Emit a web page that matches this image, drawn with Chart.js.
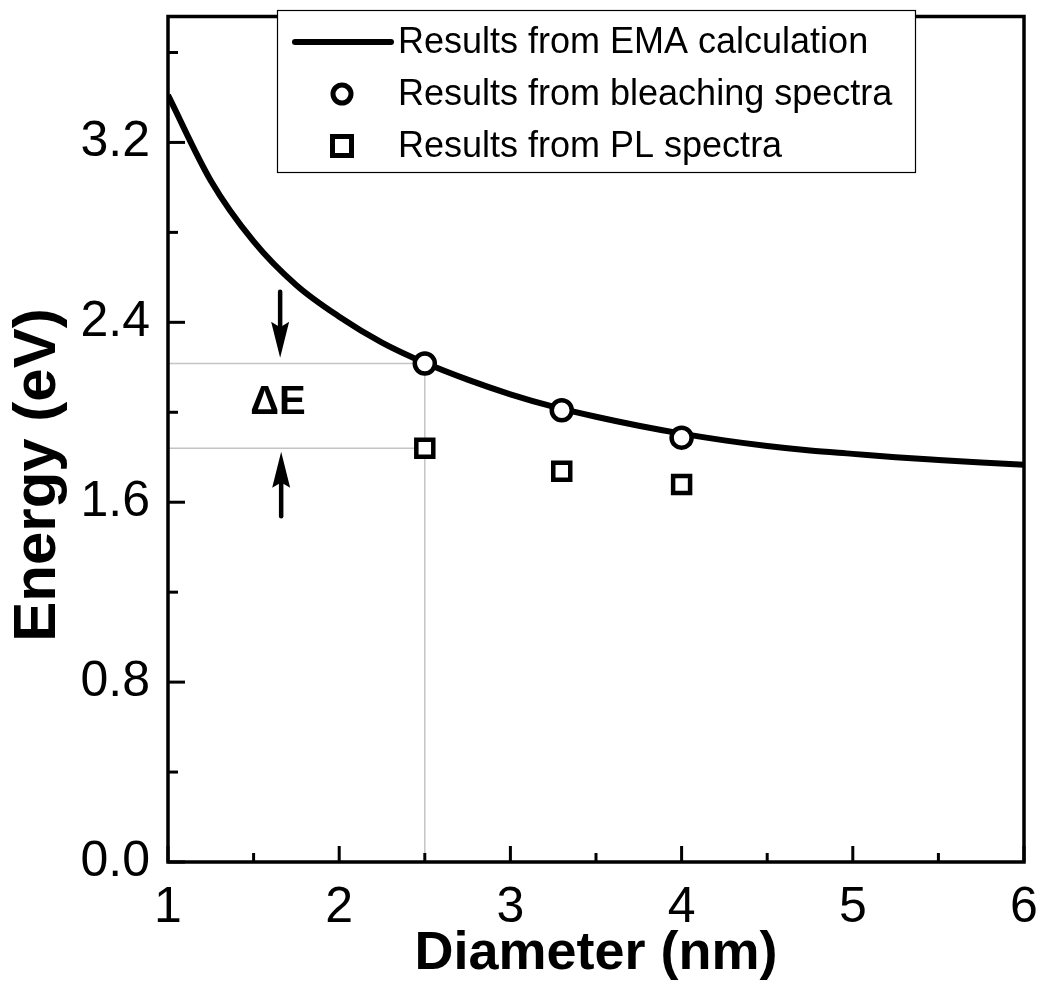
<!DOCTYPE html>
<html>
<head>
<meta charset="utf-8">
<script src="https://cdn.jsdelivr.net/npm/chart.js@4.4.1/dist/chart.umd.min.js"></script>
<style>
  html, body { margin: 0; padding: 0; background: #fff; }
  #chart { display: block; }
</style>
</head>
<body>
<canvas id="chart" width="1041" height="990"></canvas>
<script>
// EMA curve
const emaDiameter = [1.0, 1.25, 1.5, 1.75, 2.0, 2.25, 2.5, 2.75, 3.0, 3.25, 3.5, 3.75, 4.0, 4.25, 4.5, 4.75, 5.0, 5.25, 5.5, 5.75, 6.0];
const emaEnergy = [3.41, 3.03, 2.76, 2.565, 2.425, 2.31, 2.22, 2.145, 2.08, 2.025, 1.98, 1.94, 1.905, 1.875, 1.85, 1.83, 1.815, 1.80, 1.788, 1.777, 1.767];

// measured points
const sampleDiameter = [2.5, 3.3, 4.0];
const bleachingEnergy = [2.217, 2.009, 1.887];
const plEnergy = [1.840, 1.738, 1.679];

// axis ticks
const xTicks = [1, 2, 3, 4, 5, 6];
const xMinorTicks = [1.5, 2.5, 3.5, 4.5, 5.5];
const yTicks = [0.0, 0.8, 1.6, 2.4, 3.2];
const yMinorTicks = [0.4, 1.2, 2.0, 2.8, 3.6];

const legendLabels = ['Results from EMA calculation', 'Results from bleaching spectra', 'Results from PL spectra'];

// delta E annotation (first bleaching / PL pair)
const guideX = sampleDiameter[0];
const guideTop = bleachingEnergy[0];
const guideBottom = plEnergy[0];
const arrowX = 1.655;

const FONT = '"Liberation Sans", Arial, Helvetica, sans-serif';

function toXY(xs, ys) {
    return xs.map((x, i) => ({ x: x, y: ys[i] }));
}

const guideStyle = {
    type: 'line',
    borderColor: '#c4c4c4',
    borderWidth: 1.5,
    pointRadius: 0,
    fill: false,
    order: 5
};

// frame, inward ticks, legend box, arrows and delta E label
const decorations = {
    id: 'decorations',
    afterDatasetsDraw(chart) {
        const ctx = chart.ctx;
        const area = chart.chartArea;
        const xs = chart.scales.x;
        const ys = chart.scales.y;

        ctx.save();
        ctx.strokeStyle = '#000';
        ctx.lineCap = 'butt';

        // ticks
        ctx.lineWidth = 3;
        const tick = (x1, y1, x2, y2) => {
            ctx.beginPath();
            ctx.moveTo(x1, y1);
            ctx.lineTo(x2, y2);
            ctx.stroke();
        };
        xTicks.forEach(v => { const px = xs.getPixelForValue(v); tick(px, area.bottom, px, area.bottom - 16); });
        xMinorTicks.forEach(v => { const px = xs.getPixelForValue(v); tick(px, area.bottom, px, area.bottom - 9); });
        yTicks.forEach(v => { const py = ys.getPixelForValue(v); tick(area.left, py, area.left + 17, py); });
        yMinorTicks.forEach(v => { const py = ys.getPixelForValue(v); tick(area.left, py, area.left + 10, py); });

        // frame
        ctx.lineWidth = 3.5;
        ctx.strokeRect(area.left, area.top, area.right - area.left, area.bottom - area.top);

        // arrows
        const drawArrow = (x, yFrom, yTo) => {
            const px = xs.getPixelForValue(x);
            const p1 = ys.getPixelForValue(yFrom);
            const p2 = ys.getPixelForValue(yTo);
            const dir = p2 > p1 ? 1 : -1;
            const headLen = 36;
            ctx.lineWidth = 4.5;
            ctx.lineCap = 'round';
            tick(px, p1, px, p2 - dir * headLen * 0.7);
            ctx.beginPath();
            ctx.moveTo(px, p2);
            ctx.lineTo(px - 9, p2 - dir * headLen);
            ctx.lineTo(px, p2 - dir * headLen * 0.85);
            ctx.lineTo(px + 9, p2 - dir * headLen);
            ctx.closePath();
            ctx.fillStyle = '#000';
            ctx.fill();
        };
        drawArrow(arrowX, 2.536, 2.242);
        drawArrow(arrowX + 0.006, 1.538, 1.824);

        // delta E label
        ctx.fillStyle = '#000';
        ctx.font = 'bold 40px ' + FONT;
        ctx.textAlign = 'center';
        ctx.textBaseline = 'middle';
        ctx.fillText('\u0394E', xs.getPixelForValue(1.643), ys.getPixelForValue(2.04));

        // y title
        ctx.save();
        ctx.translate(38, 475);
        ctx.rotate(-Math.PI / 2);
        ctx.font = 'bold 60px ' + FONT;
        ctx.fillText('Energy (eV)', 0, 0);
        ctx.restore();

        // legend box
        const bx = 277, by = 10, bw = 638, bh = 162;
        ctx.fillStyle = '#fff';
        ctx.fillRect(bx, by, bw, bh);
        ctx.lineWidth = 1.2;
        ctx.strokeStyle = '#000';
        ctx.strokeRect(bx + 0.5, by + 0.5, bw, bh);

        const rowY = [42, 94, 146];
        ctx.fillStyle = '#000';
        ctx.font = '36px ' + FONT;
        ctx.textAlign = 'left';
        legendLabels.forEach((t, i) => ctx.fillText(t, 398, rowY[i] + 1));

        ctx.lineWidth = 6;
        ctx.lineCap = 'round';
        tick(295, rowY[0], 391, rowY[0]);

        ctx.lineWidth = 5;
        ctx.fillStyle = '#fff';
        ctx.beginPath();
        ctx.arc(342, rowY[1], 9, 0, Math.PI * 2);
        ctx.fill();
        ctx.stroke();
        ctx.fillRect(332.5, rowY[2] - 9.5, 19, 19);
        ctx.strokeRect(332.5, rowY[2] - 9.5, 19, 19);

        ctx.restore();
    }
};

const ctx = document.getElementById('chart').getContext('2d');
new Chart(ctx, {
    type: 'scatter',
    data: {
        datasets: [
            {
                label: legendLabels[1],
                data: toXY(sampleDiameter, bleachingEnergy),
                pointStyle: 'circle',
                pointRadius: 10,
                pointBorderWidth: 4.5,
                pointBorderColor: '#000',
                pointBackgroundColor: '#fff',
                order: 0
            },
            {
                label: legendLabels[2],
                data: toXY(sampleDiameter, plEnergy),
                pointStyle: 'rect',
                pointRadius: 12,
                pointBorderWidth: 4.5,
                pointBorderColor: '#000',
                pointBackgroundColor: '#fff',
                order: 1
            },
            {
                label: legendLabels[0],
                type: 'line',
                data: toXY(emaDiameter, emaEnergy),
                borderColor: '#000',
                borderWidth: 6,
                pointRadius: 0,
                cubicInterpolationMode: 'monotone',
                fill: false,
                order: 2
            },
            Object.assign({ data: [{ x: xTicks[0], y: guideTop }, { x: guideX, y: guideTop }] }, guideStyle),
            Object.assign({ data: [{ x: xTicks[0], y: guideBottom }, { x: guideX, y: guideBottom }] }, guideStyle),
            Object.assign({ data: [{ x: guideX, y: 0 }, { x: guideX, y: guideTop }] }, guideStyle)
        ]
    },
    options: {
        responsive: false,
        animation: false,
        devicePixelRatio: 1,
        layout: { padding: { left: 0, top: 7, right: 17, bottom: 0 } },
        plugins: {
            legend: { display: false },
            tooltip: { enabled: false }
        },
        scales: {
            x: {
                type: 'linear',
                min: 1,
                max: 6,
                grid: { display: false, drawTicks: false },
                border: { display: false },
                afterBuildTicks: (scale) => { scale.ticks = xTicks.map(v => ({ value: v })); },
                afterFit: (scale) => {
                    scale.height = 128;
                    scale.paddingLeft = 0;
                    scale.paddingRight = 0;
                },
                ticks: {
                    color: '#000',
                    padding: 16,
                    maxRotation: 0,
                    font: { family: FONT, size: 50 },
                    callback: (v) => String(v)
                },
                title: {
                    display: true,
                    text: 'Diameter (nm)',
                    color: '#000',
                    padding: { top: 0, bottom: 3 },
                    font: { family: FONT, size: 54, weight: 'bold' }
                }
            },
            y: {
                type: 'linear',
                min: 0,
                max: 3.76,
                grid: { display: false, drawTicks: false },
                border: { display: false },
                afterBuildTicks: (scale) => { scale.ticks = yTicks.map(v => ({ value: v })); },
                afterFit: (scale) => {
                    scale.width = 168;
                    scale.paddingTop = 0;
                    scale.paddingBottom = 0;
                },
                ticks: {
                    color: '#000',
                    padding: 18,
                    font: { family: FONT, size: 50 },
                    callback: (v) => Number(v).toFixed(1)
                }
            }
        }
    },
    plugins: [decorations]
});
</script>
</body>
</html>
